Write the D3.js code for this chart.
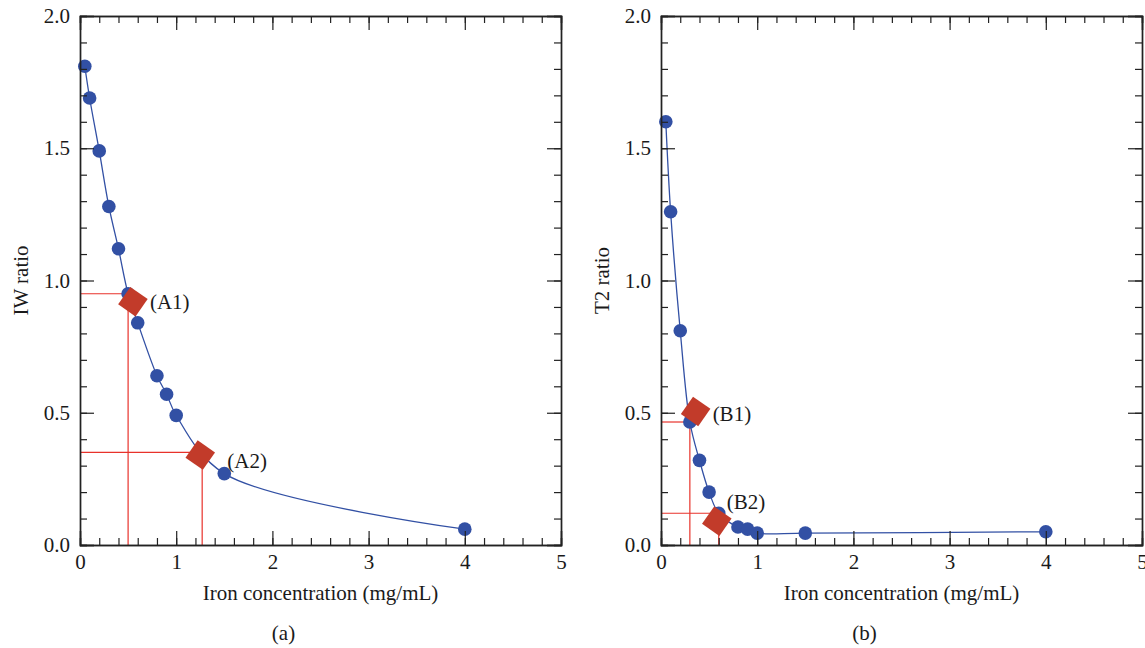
<!DOCTYPE html>
<html>
<head>
<meta charset="utf-8">
<script src="https://d3js.org/d3.v7.min.js"></script>
<style>
  body { margin: 0; background: #fff; }
  svg { display: block; font-family: 'Liberation Serif', 'DejaVu Serif', serif; }
  .axis-title { font-size: 21px; fill: #1a1a1a; }
  .mark-label { font-size: 21px; fill: #1a1a1a; }
</style>
</head>
<body>
<svg id="chart" width="1145" height="648"></svg>
<script>
// Iron concentration (mg/mL)
const ironA = [0.05, 0.1, 0.2, 0.3, 0.4, 0.5, 0.6, 0.8, 0.9, 1.0, 1.5, 4.0];
const iwRatio = [1.81, 1.69, 1.49, 1.28, 1.12, 0.95, 0.84, 0.64, 0.57, 0.49, 0.27, 0.06];

const ironB = [0.05, 0.1, 0.2, 0.3, 0.4, 0.5, 0.6, 0.8, 0.9, 1.0, 1.5, 4.0];
const t2Ratio = [1.60, 1.26, 0.81, 0.465, 0.32, 0.20, 0.12, 0.068, 0.06, 0.045, 0.045, 0.05];

// highlighted points: diamond position, crosshair position, label and its offset
const markersA = [
  { name: "(A1)", x: 0.55, y: 0.92, cx: 0.5, cy: 0.95, dx: 17, dy: 7 },
  { name: "(A2)", x: 1.25, y: 0.34, cx: 1.27, cy: 0.35, dx: 27, dy: 13 }
];
const markersB = [
  { name: "(B1)", x: 0.36, y: 0.505, cx: 0.30, cy: 0.465, dx: 17, dy: 10 },
  { name: "(B2)", x: 0.58, y: 0.09, cx: 0.60, cy: 0.12, dx: 10, dy: -12 }
];

const xTicks = [0, 1, 2, 3, 4, 5];
const yTicks = [0.0, 0.5, 1.0, 1.5, 2.0];

const svg = d3.select("#chart");
const blue = "#3250a4";
const red = "#c23b2a";
const lineRed = "#e8322b";

function panel(left, xs, ys, markers, yTitle, caption) {
  const x = d3.scaleLinear().domain([0, 5]).range([left, left + 481]);
  const y = d3.scaleLinear().domain([0, 2]).range([545, 16]);
  const g = svg.append("g");

  // crosshair lines
  markers.forEach(m => {
    g.append("line")
      .attr("x1", x(0)).attr("x2", x(m.cx))
      .attr("y1", y(m.cy)).attr("y2", y(m.cy))
      .attr("stroke", lineRed).attr("stroke-width", 1.2);
    g.append("line")
      .attr("x1", x(m.cx)).attr("x2", x(m.cx))
      .attr("y1", y(m.cy)).attr("y2", y(0))
      .attr("stroke", lineRed).attr("stroke-width", 1.2);
  });

  // curve
  const pts = xs.map((v, i) => [v, ys[i]]);
  g.append("path")
    .datum(pts)
    .attr("fill", "none")
    .attr("stroke", blue)
    .attr("stroke-width", 1.3)
    .attr("d", d3.line().x(d => x(d[0])).y(d => y(d[1])).curve(d3.curveCatmullRom.alpha(0.5)));

  g.selectAll(".pt")
    .data(pts)
    .enter().append("circle")
    .attr("cx", d => x(d[0]))
    .attr("cy", d => y(d[1]))
    .attr("r", 6.8)
    .attr("fill", blue);

  // diamonds
  const sq = d3.symbol().type(d3.symbolSquare).size(450);
  g.selectAll(".dia")
    .data(markers)
    .enter().append("path")
    .attr("d", sq)
    .attr("transform", d => `translate(${x(d.x)},${y(d.y)}) rotate(35)`)
    .attr("fill", red);

  g.selectAll(".mlab")
    .data(markers)
    .enter().append("text")
    .attr("class", "mark-label")
    .attr("x", d => x(d.x) + d.dx)
    .attr("y", d => y(d.y) + d.dy)
    .text(d => d.name);

  // frame and axes (ticks pointing inward on all sides)
  const frame = g.append("g");
  frame.append("g")
    .attr("transform", `translate(0,${y(0)})`)
    .call(d3.axisBottom(x).tickValues(d3.range(0, 5.01, 0.2)).tickSize(-7).tickFormat(""));
  frame.append("g")
    .attr("transform", `translate(0,${y(0)})`)
    .call(d3.axisBottom(x).tickValues(xTicks).tickSize(-14).tickPadding(9).tickFormat(d3.format("d")));
  frame.append("g")
    .attr("transform", `translate(0,${y(2)})`)
    .call(d3.axisTop(x).tickValues(d3.range(0, 5.01, 0.2)).tickSize(-7).tickFormat(""));
  frame.append("g")
    .attr("transform", `translate(0,${y(2)})`)
    .call(d3.axisTop(x).tickValues(xTicks).tickSize(-14).tickFormat(""));
  frame.append("g")
    .attr("transform", `translate(${x(0)},0)`)
    .call(d3.axisLeft(y).tickValues(d3.range(0, 2.001, 0.1)).tickSize(-7).tickFormat(""));
  frame.append("g")
    .attr("transform", `translate(${x(0)},0)`)
    .call(d3.axisLeft(y).tickValues(yTicks).tickSize(-14).tickPadding(10).tickFormat(d3.format(".1f")));
  frame.append("g")
    .attr("transform", `translate(${x(5)},0)`)
    .call(d3.axisRight(y).tickValues(d3.range(0, 2.001, 0.1)).tickSize(-7).tickFormat(""));
  frame.append("g")
    .attr("transform", `translate(${x(5)},0)`)
    .call(d3.axisRight(y).tickValues(yTicks).tickSize(-14).tickFormat(""));

  frame.selectAll(".domain").attr("stroke", "#222").attr("stroke-width", 1.4);
  frame.selectAll(".tick line").attr("stroke", "#222").attr("stroke-width", 1.2);
  frame.selectAll(".tick text")
    .attr("fill", "#1a1a1a")
    .style("font-family", "'Liberation Serif', serif")
    .style("font-size", "21px");

  g.append("text")
    .attr("class", "axis-title")
    .attr("x", (x(0) + x(5)) / 2)
    .attr("y", 600)
    .attr("text-anchor", "middle")
    .text("Iron concentration (mg/mL)");

  g.append("text")
    .attr("class", "axis-title")
    .attr("transform", `translate(${left - 52},${(y(0) + y(2)) / 2}) rotate(-90)`)
    .attr("text-anchor", "middle")
    .text(yTitle);

  g.append("text")
    .attr("class", "axis-title")
    .attr("x", (x(0) + x(5)) / 2 - 37)
    .attr("y", 640)
    .attr("text-anchor", "middle")
    .text(caption);
}

panel(80, ironA, iwRatio, markersA, "IW ratio", "(a)");
panel(661, ironB, t2Ratio, markersB, "T2 ratio", "(b)");
</script>
</body>
</html>
